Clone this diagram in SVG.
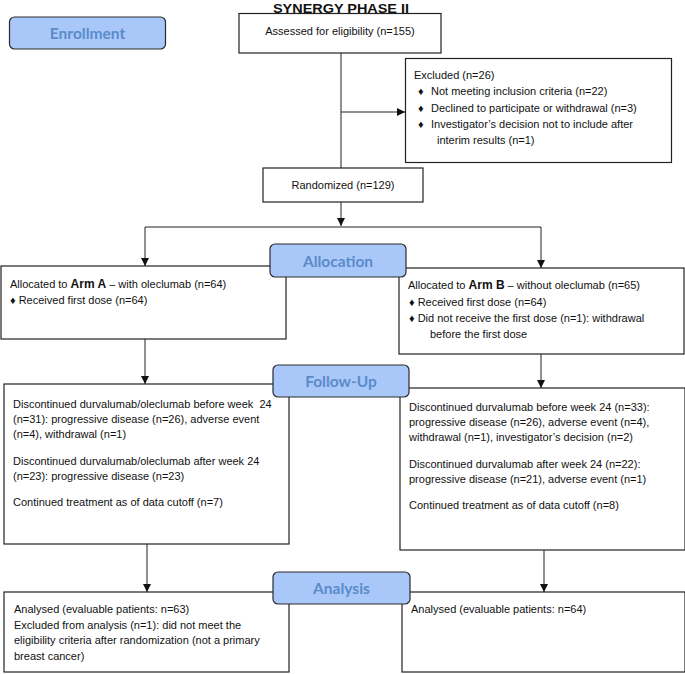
<svg xmlns="http://www.w3.org/2000/svg" width="685" height="674" viewBox="0 0 685 674">
<defs>
<style>
.box{fill:#ffffff;stroke:#222222;stroke-width:1.2}
.lab{fill:#a9c8f9;stroke:#2a2a2a;stroke-width:1.2}
.labt{font-family:Lato,"Liberation Sans",sans-serif;font-weight:700;font-size:15.5px;fill:#5b8bc9;text-anchor:middle}
.t{font-family:"Liberation Sans",Arial,sans-serif;font-size:11px;fill:#111111}
.c{fill:none;stroke:#222222;stroke-width:1}
.title{font-family:"Liberation Sans",Arial,sans-serif;font-weight:700;font-size:13.5px;fill:#111111;text-anchor:middle}
</style>
<marker id="arr" markerUnits="userSpaceOnUse" markerWidth="8" markerHeight="8" refX="8" refY="4" orient="auto">
<path d="M0,0 L8,4 L0,8 z" fill="#111111"/>
</marker>
</defs>
<rect width="685" height="674" fill="#ffffff"/>
<text class="title" x="341" y="12.5" textLength="136" lengthAdjust="spacingAndGlyphs">SYNERGY PHASE II</text>

<g id="connectors">
<path class="c" d="M341,53 V168"/>
<path class="c" d="M341,112 H405" marker-end="url(#arr)"/>
<path class="c" d="M341,202 V226" marker-end="url(#arr)"/>
<path class="c" d="M145,227 H541"/>
<path class="c" d="M145,227 V266" marker-end="url(#arr)"/>
<path class="c" d="M541,227 V268" marker-end="url(#arr)"/>
<path class="c" d="M145,339 V384" marker-end="url(#arr)"/>
<path class="c" d="M541,354 V388" marker-end="url(#arr)"/>
<path class="c" d="M147,544 V592" marker-end="url(#arr)"/>
<path class="c" d="M544,550 V592" marker-end="url(#arr)"/>
</g>

<g id="enrollment">
<rect class="lab" x="9.5" y="17" width="156" height="32" rx="5"/>
<text class="labt" x="87.5" y="39">Enrollment</text>
</g>

<g id="assessed">
<rect class="box" x="239" y="13.5" width="202" height="39.5"/>
<text class="t" x="340" y="35" text-anchor="middle">Assessed for eligibility (n=155)</text>
</g>

<g id="excluded">
<rect class="box" x="405.5" y="58.5" width="266" height="104"/>
<text class="t" x="414" y="79">Excluded (n=26)</text>
<text class="t" x="418" y="95">♦</text><text class="t" x="431" y="95">Not meeting inclusion criteria (n=22)</text>
<text class="t" x="418" y="111.5">♦</text><text class="t" x="431" y="111.5">Declined to participate or withdrawal (n=3)</text>
<text class="t" x="418" y="128">♦</text><text class="t" x="431" y="128">Investigator’s decision not to include after</text>
<text class="t" x="437" y="144">interim results (n=1)</text>
</g>

<g id="randomized">
<rect class="box" x="263" y="168" width="160" height="34"/>
<text class="t" x="343" y="189" text-anchor="middle">Randomized (n=129)</text>
</g>

<g id="armA">
<rect class="box" x="1" y="266" width="285" height="73"/>
<text class="t" x="10" y="288">Allocated to <tspan font-weight="700" font-size="12px">Arm A</tspan> – with oleclumab (n=64)</text>
<text class="t" x="10" y="304">♦ Received first dose (n=64)</text>
</g>

<g id="armB">
<rect class="box" x="399" y="268" width="285" height="86"/>
<text class="t" x="408" y="289">Allocated to <tspan font-weight="700" font-size="12px">Arm B</tspan> – without oleclumab (n=65)</text>
<text class="t" x="409" y="306">♦ Received first dose (n=64)</text>
<text class="t" x="409" y="322">♦ Did not receive the first dose (n=1): withdrawal</text>
<text class="t" x="430" y="338">before the first dose</text>
</g>

<g id="allocation">
<rect class="lab" x="270" y="244" width="136" height="33" rx="5"/>
<text class="labt" x="338" y="267">Allocation</text>
</g>

<g id="followA">
<rect class="box" x="4" y="384" width="285" height="160"/>
<text class="t" x="13" y="408" xml:space="preserve">Discontinued durvalumab/oleclumab before week  24</text>
<text class="t" x="13" y="423">(n=31): progressive disease (n=26), adverse event</text>
<text class="t" x="13" y="438">(n=4), withdrawal (n=1)</text>
<text class="t" x="13" y="465">Discontinued durvalumab/oleclumab after week 24</text>
<text class="t" x="13" y="480">(n=23): progressive disease (n=23)</text>
<text class="t" x="13" y="506">Continued treatment as of data cutoff (n=7)</text>
</g>

<g id="followB">
<rect class="box" x="400" y="388" width="285" height="162"/>
<text class="t" x="409" y="411">Discontinued durvalumab before week 24 (n=33):</text>
<text class="t" x="409" y="426">progressive disease (n=26), adverse event (n=4),</text>
<text class="t" x="409" y="441">withdrawal (n=1), investigator’s decision (n=2)</text>
<text class="t" x="409" y="468">Discontinued durvalumab after week 24 (n=22):</text>
<text class="t" x="409" y="483">progressive disease (n=21), adverse event (n=1)</text>
<text class="t" x="409" y="509">Continued treatment as of data cutoff (n=8)</text>
</g>

<g id="followup">
<rect class="lab" x="273" y="365" width="136" height="32" rx="5"/>
<text class="labt" x="341" y="387">Follow-Up</text>
</g>

<g id="analysisA">
<rect class="box" x="4" y="592" width="285" height="80"/>
<text class="t" x="14" y="613">Analysed (evaluable patients: n=63)</text>
<text class="t" x="14" y="628.5">Excluded from analysis (n=1): did not meet the</text>
<text class="t" x="14" y="644">eligibility criteria after randomization (not a primary</text>
<text class="t" x="14" y="659.5">breast cancer)</text>
</g>

<g id="analysisB">
<rect class="box" x="402" y="592" width="283" height="80"/>
<text class="t" x="411" y="613">Analysed (evaluable patients: n=64)</text>
</g>

<g id="analysis">
<rect class="lab" x="273" y="572" width="137" height="32" rx="5"/>
<text class="labt" x="341.5" y="594">Analysis</text>
</g>
</svg>
